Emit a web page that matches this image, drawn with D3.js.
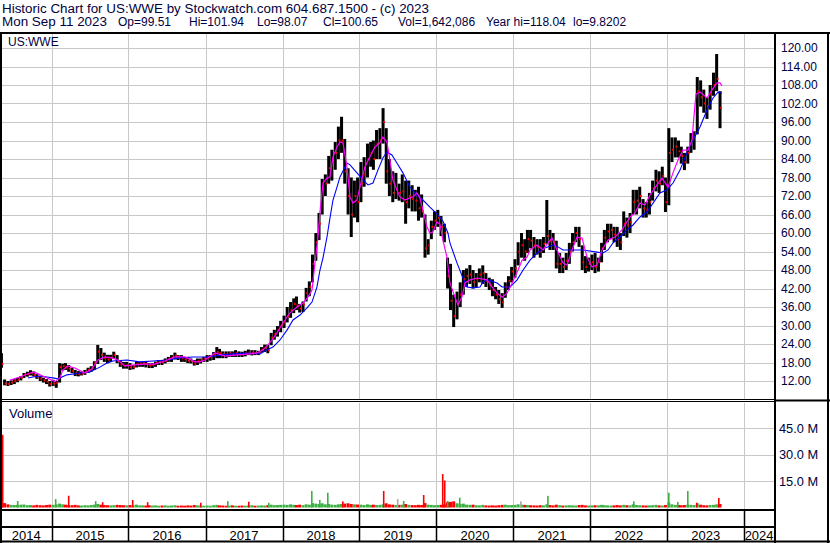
<!DOCTYPE html>
<html>
<head>
<meta charset="utf-8">
<script src="https://cdn.jsdelivr.net/npm/d3@7"></script>
<style>
body { margin: 0; background: #fff; }
text { font-family: Arial, "Liberation Sans", sans-serif; }
</style>
</head>
<body>
<svg id="chart" width="830" height="543"></svg>
<script>
// semi-monthly bars (1st and 16th of each month): [high, low, close, volume in M]
const p2014 = [ // from May
	[21.0,16.3,17.5,3.0],[12.5,10.6,11.2,2.5],[12.0,10.4,11.0,1.8],[12.2,10.7,11.5,1.5],
	[12.6,11.0,12.0,1.4],[13.0,11.6,12.4,1.5],[13.6,12.2,13.0,1.6],[14.6,13.0,14.0,1.7],
	[15.0,13.4,14.2,1.3],[15.5,13.8,14.6,1.4],[15.1,13.5,14.0,1.2],[14.2,12.7,13.4,1.5],
	[13.6,12.0,12.8,1.3],[13.1,11.5,12.2,1.2],[12.6,11.0,11.8,1.4],[12.0,10.2,11.0,1.6]];
const p2015 = [
	[12.4,10.4,11.2,1.5],[12.0,9.8,11.4,1.8],[17.8,11.5,16.5,2.2],[17.6,15.4,16.8,1.8],
	[17.8,15.6,16.4,1.6],[17.2,15.0,16.0,1.4],[16.3,14.6,15.2,1.3],[15.6,13.6,14.5,1.5],
	[15.2,13.5,14.2,1.2],[15.0,13.8,14.4,1.1],[15.6,14.0,15.0,1.3],[16.3,14.6,15.6,1.2],
	[16.8,15.0,16.2,1.4],[18.4,15.6,17.8,1.6],[23.7,17.5,21.5,2.0],[22.7,18.8,20.5,1.6],
	[21.2,18.2,19.4,1.4],[20.5,17.8,19.0,1.3],[20.5,18.2,19.6,1.2],[21.5,19.3,20.5,1.3],
	[20.4,17.8,18.5,1.5],[18.8,16.6,17.4,1.4],[18.2,16.0,17.0,1.3],[18.2,16.0,17.2,1.2]];
const p2016 = [
	[17.8,15.6,16.4,1.4],[17.2,15.8,16.6,1.3],[18.2,16.4,17.5,1.6],[18.2,16.6,17.6,1.2],
	[18.3,16.6,17.8,1.2],[18.3,16.4,17.5,1.1],[17.8,16.2,17.0,1.3],[17.8,16.2,17.2,1.1],
	[18.3,16.6,17.8,1.2],[18.8,17.2,18.2,1.0],[18.8,17.2,18.0,1.1],[19.3,17.7,18.6,1.2],
	[19.8,18.2,19.2,1.0],[20.4,18.2,19.6,1.1],[21.2,19.0,20.3,1.3],[20.4,18.8,19.8,1.0],
	[20.4,18.2,19.4,1.1],[19.8,18.2,19.0,1.0],[19.8,17.8,18.6,1.2],[19.3,17.7,18.4,1.1],
	[18.8,17.0,17.6,1.4],[19.3,17.2,18.4,1.2],[19.3,17.7,18.8,1.1],[19.8,18.2,19.4,1.0]];
const p2017 = [
	[20.4,18.2,19.6,1.1],[20.4,18.6,19.8,1.0],[21.4,18.8,20.4,1.3],[23.0,19.4,21.4,1.5],
	[22.4,19.4,21.0,1.2],[21.6,19.4,20.8,1.1],[21.6,19.4,20.6,1.0],[21.6,19.8,21.0,1.1],
	[21.6,19.8,20.8,1.2],[22.0,19.8,21.0,1.0],[21.6,19.8,20.8,1.0],[21.5,19.8,20.6,1.1],
	[21.8,20.0,21.0,1.0],[22.2,20.4,21.2,1.2],[22.0,20.3,21.2,1.3],[22.0,20.4,21.0,1.0],
	[21.8,20.4,21.2,1.1],[23.0,21.2,22.2,1.2],[23.8,21.4,22.8,1.1],[23.8,21.0,22.0,1.3],
	[27.6,23.6,26.0,1.6],[28.6,25.4,27.2,1.3],[29.8,26.4,28.6,1.4],[31.5,27.8,30.0,1.5]];
const p2018 = [
	[33.2,29.2,31.0,1.6],[36.0,31.0,33.0,1.5],[37.6,32.5,35.0,1.8],[38.8,34.0,37.0,1.5],
	[39.4,35.0,36.5,1.4],[37.0,34.2,35.5,1.6],[37.8,34.4,36.8,1.3],[42.2,37.8,40.5,1.8],
	[44.3,39.5,42.5,1.6],[53.0,44.0,50.0,2.5],[60.0,51.0,57.0,2.2],[66.5,57.7,63.0,2.0],
	[77.5,66.0,74.0,2.4],[79.0,72.0,76.0,1.8],[85.0,76.0,81.0,2.0],[87.0,77.0,83.0,1.6],
	[89.5,80.5,86.0,1.5],[94.5,84.0,90.0,1.8],[97.7,86.0,90.0,2.0],[90.5,76.0,80.0,2.2],
	[81.0,66.0,72.0,2.4],[78.0,58.7,66.0,2.0],[77.0,65.0,72.0,1.8],[78.0,63.5,70.0,1.7]];
const p2019 = [
	[83.0,70.0,76.0,1.6],[84.6,75.0,79.0,1.4],[89.0,78.0,84.0,1.8],[89.5,81.5,86.0,1.5],
	[90.0,80.5,84.0,1.6],[93.4,84.0,89.0,1.4],[94.0,84.0,90.0,1.5],[100.5,89.0,96.0,1.8],
	[94.0,76.0,80.0,2.4],[84.0,72.0,76.0,1.8],[80.0,70.0,73.0,1.6],[79.5,71.0,74.0,1.4],
	[76.0,70.5,73.0,1.5],[79.0,70.0,73.5,1.6],[77.0,63.0,70.0,2.0],[77.0,68.0,72.0,1.5],
	[75.5,67.0,71.0,1.4],[74.0,67.0,70.5,1.3],[75.0,64.0,68.0,1.5],[72.5,65.0,67.0,1.4],
	[66.0,52.0,55.0,2.5],[58.0,53.0,56.0,1.6],[64.0,58.0,62.0,1.5],[67.0,61.0,64.0,1.3]];
const p2020 = [
	[67.5,62.0,65.0,1.4],[65.5,59.0,62.0,1.5],[63.0,57.0,60.0,1.8],[52.0,42.0,46.0,3.0],
	[50.0,35.0,38.0,3.2],[40.0,29.5,33.0,3.5],[41.0,32.0,37.0,2.4],[44.0,36.0,40.0,2.0],
	[48.0,40.0,45.0,2.2],[48.5,42.5,46.0,1.6],[49.6,43.5,46.5,1.5],[48.0,42.0,44.0,1.6],
	[47.0,42.5,45.0,1.3],[48.5,44.0,46.5,1.2],[49.5,43.5,47.0,1.5],[47.0,42.5,44.5,1.2],
	[45.5,41.5,43.0,1.1],[45.0,39.5,41.5,1.2],[42.5,38.5,40.0,1.1],[41.5,37.0,38.5,1.3],
	[40.5,35.7,37.5,1.5],[44.0,39.0,42.5,1.6],[46.0,41.5,44.5,1.3],[49.0,44.0,47.5,1.4]];
const p2021 = [
	[51.5,45.5,48.5,1.5],[57.0,49.5,54.0,1.8],[60.0,52.0,56.0,1.6],[58.0,51.0,54.0,1.5],
	[61.0,53.5,58.0,1.4],[61.0,55.0,57.5,1.3],[58.7,52.0,56.0,1.2],[58.0,53.0,55.5,1.1],
	[58.0,52.0,54.0,1.3],[58.7,53.5,56.5,1.2],[70.7,56.5,59.0,1.8],[61.0,54.5,57.5,1.4],
	[60.0,54.5,57.0,1.2],[57.5,48.5,50.0,1.6],[53.5,47.0,50.0,1.3],[52.0,47.0,49.0,1.1],
	[53.5,48.0,51.0,1.2],[56.8,50.0,54.0,1.3],[60.0,54.0,57.0,1.2],[62.0,57.0,60.0,1.1],
	[62.0,55.5,58.0,1.4],[56.0,48.0,50.5,1.5],[52.5,47.0,49.0,1.2],[52.0,47.5,50.0,1.1]];
const p2022 = [
	[53.0,48.0,50.5,1.2],[53.5,47.0,49.0,1.3],[52.0,47.5,50.5,1.2],[56.8,50.5,55.0,1.5],
	[61.0,54.5,58.5,1.3],[63.0,57.0,60.5,1.2],[63.0,58.0,61.0,1.1],[62.0,57.0,59.5,1.2],
	[62.0,55.5,58.0,1.4],[60.0,54.5,57.0,1.2],[67.0,59.0,63.0,1.5],[65.0,58.5,62.5,1.3],
	[66.5,60.0,63.5,1.2],[74.0,66.0,70.0,1.8],[74.0,66.0,70.5,1.4],[75.0,68.0,72.0,1.3],
	[71.0,65.0,68.0,1.2],[70.0,65.0,67.5,1.1],[73.0,66.0,70.0,1.2],[77.0,70.5,74.5,1.3],
	[80.5,73.5,77.0,1.5],[80.0,73.0,76.0,1.2],[81.5,75.5,78.5,1.1],[78.0,66.8,70.0,1.4]];
const p2023 = [
	[94.0,69.0,86.0,2.8],[91.0,83.0,87.0,1.8],[91.0,84.5,88.0,1.5],[90.0,84.5,86.5,1.4],
	[88.0,82.5,85.0,1.3],[86.0,80.4,83.0,1.4],[88.0,82.5,86.0,1.6],[92.4,86.0,90.0,1.5],
	[93.0,87.0,91.0,1.4],[110.6,92.0,106.0,2.4],[109.5,101.0,104.0,1.6],[106.5,99.0,102.0,1.3],
	[104.0,97.0,101.0,1.2],[108.0,100.0,105.0,1.4],[112.0,104.5,108.0,1.5],[118.04,106.0,110.0,1.8],
	[106.0,94.0,100.65,2.0]];

// volume spikes: [decimal year, volume M, up/down/flat]
const volSpikes = [
	[2014.354,41.3,'dn'],[2014.549,3.7,'up'],[2015.043,4.8,'up'],[2015.212,6.7,'dn'],
	[2015.563,3.6,'up'],[2015.654,3.0,'dn'],[2016.044,4.3,'dn'],[2016.238,3.0,'dn'],
	[2016.927,2.7,'dn'],[2017.278,3.6,'up'],[2017.551,3.3,'dn'],[2017.811,2.7,'up'],
	[2018.370,9.4,'up'],[2018.474,4.3,'up'],[2018.578,8.4,'up'],[2018.773,3.5,'dn'],
	[2019.305,9.4,'dn'],[2019.487,4.8,'eq'],[2019.565,3.7,'up'],[2019.825,7.1,'dn'],
	[2020.072,19.0,'dn'],[2020.098,15.3,'dn'],[2020.137,3.7,'up'],[2020.293,5.6,'up'],
	[2021.086,3.5,'eq'],[2021.437,6.6,'up'],[2022.554,3.5,'up'],[2023.009,8.4,'up'],
	[2023.126,3.2,'up'],[2023.256,9.4,'up'],[2023.373,2.7,'dn'],[2023.659,5.4,'dn']];

// short moving average (magenta): [decimal year, value]
const maShort = [
	[2014.458,12.3],[2014.588,13.3],[2014.718,14.6],[2014.783,14.8],[2014.913,13.3],[2015.043,11.8],
	[2015.108,13.0],[2015.147,15.6],[2015.212,16.9],[2015.303,16.2],[2015.433,14.6],[2015.524,15.9],
	[2015.602,18.8],[2015.693,19.8],[2015.784,19.5],[2015.862,18.8],[2015.953,16.9],[2016.082,17.2],
	[2016.212,17.5],[2016.342,17.5],[2016.472,18.5],[2016.602,19.8],[2016.732,19.8],[2016.862,18.2],
	[2016.927,18.2],[2016.992,18.8],[2017.122,21.1],[2017.252,20.1],[2017.382,20.4],[2017.577,20.8],
	[2017.668,21.1],[2017.746,22.1],[2017.811,23.7],[2017.863,25.3],[2017.928,27.6],[2018.006,30.8],
	[2018.097,34.1],[2018.188,36.0],[2018.266,37.3],[2018.331,39.2],[2018.383,41.5],[2018.422,50.3],
	[2018.461,58.7],[2018.487,66.8],[2018.526,76.2],[2018.578,77.8],[2018.617,78.2],[2018.656,84.7],
	[2018.708,87.9],[2018.747,89.5],[2018.786,89.2],[2018.838,81.4],[2018.877,71.7],[2018.916,69.7],
	[2018.968,70.7],[2019.006,74.9],[2019.071,81.4],[2019.136,84.7],[2019.201,87.9],[2019.266,89.2],
	[2019.305,91.1],[2019.357,89.5],[2019.396,83.7],[2019.435,77.2],[2019.487,74.0],[2019.526,71.7],
	[2019.591,70.7],[2019.656,71.4],[2019.695,71.7],[2019.747,73.0],[2019.786,71.4],[2019.825,67.5],
	[2019.877,62.0],[2019.916,60.0],[2019.955,60.3],[2020.007,63.6],[2020.046,62.9],[2020.085,57.7],
	[2020.137,52.2],[2020.176,43.8],[2020.241,39.2],[2020.280,36.7],[2020.332,39.2],[2020.371,43.8],
	[2020.436,44.8],[2020.527,45.4],[2020.657,44.8],[2020.722,42.5],[2020.787,40.5],[2020.852,39.2],
	[2020.917,40.5],[2020.982,43.8],[2021.060,48.0],[2021.112,51.2],[2021.177,52.2],[2021.215,54.5],
	[2021.306,56.1],[2021.384,54.5],[2021.449,56.8],[2021.501,58.4],[2021.566,54.5],[2021.644,50.3],
	[2021.696,49.6],[2021.761,54.5],[2021.826,58.7],[2021.891,58.4],[2021.956,52.2],[2022.021,49.0],
	[2022.086,49.6],[2022.151,54.5],[2022.229,57.7],[2022.320,58.7],[2022.411,61.0],[2022.515,65.2],
	[2022.580,66.5],[2022.645,69.7],[2022.710,69.1],[2022.775,72.3],[2022.866,75.6],[2022.931,77.8],
	[2023.009,74.9],[2023.074,79.5],[2023.139,83.7],[2023.204,86.9],[2023.269,86.9],[2023.321,90.2],
	[2023.347,98.0],[2023.373,105.0],[2023.425,105.7],[2023.516,103.8],[2023.581,106.4],[2023.646,108.7],
	[2023.685,108.7],[2023.711,107.7]];

// long moving average (blue): [decimal year, value]
const maLong = [
	[2014.692,13.0],[2014.757,13.3],[2014.848,13.6],[2014.939,13.3],[2015.017,13.0],[2015.082,12.7],
	[2015.199,14.0],[2015.368,14.6],[2015.498,14.9],[2015.628,16.5],[2015.719,17.8],[2015.797,18.5],
	[2015.979,18.8],[2016.147,18.2],[2016.316,18.5],[2016.498,18.8],[2016.667,19.5],[2016.836,19.8],
	[2017.018,19.8],[2017.187,20.4],[2017.356,20.8],[2017.538,21.1],[2017.707,20.8],[2017.798,22.1],
	[2017.876,23.0],[2017.967,25.3],[2018.058,28.5],[2018.136,31.8],[2018.227,33.4],[2018.318,35.7],
	[2018.383,37.6],[2018.448,42.5],[2018.487,48.0],[2018.526,51.9],[2018.578,58.7],[2018.617,64.9],
	[2018.656,70.7],[2018.708,74.9],[2018.747,78.2],[2018.838,82.7],[2018.877,82.1],[2018.968,79.5],
	[2019.046,77.2],[2019.111,75.6],[2019.176,76.2],[2019.240,80.4],[2019.305,84.3],[2019.357,86.3],
	[2019.422,85.3],[2019.487,82.7],[2019.565,79.5],[2019.656,74.9],[2019.747,72.3],[2019.825,70.7],
	[2019.916,68.4],[2020.007,66.2],[2020.085,63.9],[2020.150,60.0],[2020.176,56.8],[2020.267,50.3],
	[2020.345,45.4],[2020.397,42.5],[2020.475,42.2],[2020.566,42.5],[2020.605,44.1],[2020.670,44.8],
	[2020.787,43.8],[2020.852,42.5],[2020.956,42.5],[2021.047,44.8],[2021.125,48.0],[2021.215,51.2],
	[2021.306,53.5],[2021.410,55.1],[2021.514,56.1],[2021.579,55.5],[2021.644,54.5],[2021.774,54.5],
	[2021.904,54.5],[2022.086,53.8],[2022.164,53.5],[2022.229,54.5],[2022.294,56.8],[2022.385,58.7],
	[2022.476,61.0],[2022.554,62.6],[2022.645,65.2],[2022.736,66.8],[2022.814,69.7],[2022.905,73.0],
	[2022.996,74.0],[2023.074,76.2],[2023.165,80.4],[2023.256,86.0],[2023.334,90.2],[2023.425,94.4],
	[2023.516,99.9],[2023.594,103.8],[2023.659,105.7],[2023.711,105.4]];

const priceTicks = d3.range(12, 121, 6),
	volTicks = [15, 30, 45],
	yearLabels = d3.range(2014, 2025);

const headerLine1 = 'Historic Chart for US:WWE by Stockwatch.com 604.687.1500 - (c) 2023';
// [x, text, stretched width or 0]
const headerLine2 = [
	[2, 'Mon Sep 11 2023', 105], [118, 'Op=99.51', 0], [189, 'Hi=101.94', 0], [257, 'Lo=98.07', 0],
	[323, 'Cl=100.65', 0], [398, 'Vol=1,642,086', 0], [486, 'Year hi=118.04', 0], [573, 'lo=9.8202', 0]];

// layout
const W = 830, H = 543,
	plotL = 1, plotR = 774,
	priceTop = 34, priceBot = 399,
	volTop = 403, volBot = 509,
	textCol = '#000040',
	gridCol = '#c8c8c8',
	upCol = '#3cb043', dnCol = '#ff0000', eqCol = '#a8a8a8';

const svg = d3.select('#chart');

const x = d3.scaleTime()
	.domain([new Date(2014, 4, 6), new Date(2024, 4, 26)])
	.range([plotL, plotR + 1]);
const yPrice = d3.scaleLinear().domain([12, 120]).range([381, 48]);
const yVol = d3.scaleLinear().domain([0, 45]).range([507.5, 428.3]);

function yearToDate(yf) {
	const yr = Math.floor(yf),
		a = new Date(yr, 0, 1), b = new Date(yr + 1, 0, 1);
	return new Date(+a + (yf - yr) * (b - a));
}

// flatten yearly arrays into dated bars
const bars = [];
[[2014, 4, p2014], [2015, 0, p2015], [2016, 0, p2016], [2017, 0, p2017], [2018, 0, p2018],
 [2019, 0, p2019], [2020, 0, p2020], [2021, 0, p2021], [2022, 0, p2022], [2023, 0, p2023]]
	.forEach(([yr, m0, rows]) => rows.forEach((r, i) => {
		bars.push({
			date: new Date(yr, m0 + Math.floor(i / 2), i % 2 ? 16 : 1),
			hi: r[0], lo: r[1], cl: r[2], vol: r[3]
		});
	}));
bars.forEach((d, i) => {
	d.col = i == 0 ? dnCol : (d.cl >= bars[i - 1].cl ? upCol : dnCol);
});

const yearLines = d3.timeYear.range(new Date(2015, 0, 1), new Date(2024, 0, 2));

// header
svg.append('text').attr('x', 2).attr('y', 13)
	.attr('font-size', 12.5).attr('fill', textCol)
	.attr('textLength', 427).attr('lengthAdjust', 'spacingAndGlyphs')
	.text(headerLine1);
svg.append('g').selectAll('text').data(headerLine2).join('text')
	.attr('x', d => d[0]).attr('y', 26)
	.attr('font-size', 12).attr('fill', textCol)
	.each(function(d) {
		if (d[2]) d3.select(this).attr('textLength', d[2]).attr('lengthAdjust', 'spacingAndGlyphs');
	})
	.text(d => d[1]);

// gridlines
const grid = svg.append('g').attr('stroke', gridCol).attr('stroke-width', 1);
grid.selectAll('.hp').data(priceTicks).join('line')
	.attr('x1', plotL).attr('x2', plotR)
	.attr('y1', d => Math.round(yPrice(d)) + 0.5).attr('y2', d => Math.round(yPrice(d)) + 0.5);
grid.selectAll('.hv').data(volTicks).join('line')
	.attr('x1', plotL).attr('x2', plotR)
	.attr('y1', d => Math.round(yVol(d)) + 0.5).attr('y2', d => Math.round(yVol(d)) + 0.5);
grid.selectAll('.vp').data(yearLines).join('line')
	.attr('x1', d => Math.round(x(d)) + 0.5).attr('x2', d => Math.round(x(d)) + 0.5)
	.attr('y1', priceTop).attr('y2', priceBot);
grid.selectAll('.vv').data(yearLines).join('line')
	.attr('x1', d => Math.round(x(d)) + 0.5).attr('x2', d => Math.round(x(d)) + 0.5)
	.attr('y1', volTop).attr('y2', volBot);

// clip areas
const defs = svg.append('defs');
defs.append('clipPath').attr('id', 'clipPrice').append('rect')
	.attr('x', plotL + 1).attr('y', priceTop).attr('width', plotR - plotL - 1).attr('height', priceBot - priceTop);
defs.append('clipPath').attr('id', 'clipVol').append('rect')
	.attr('x', plotL + 1).attr('y', volTop).attr('width', plotR - plotL - 1).attr('height', volBot - volTop);

// price bars
const pg = svg.append('g').attr('clip-path', 'url(#clipPrice)');
pg.selectAll('rect.hl').data(bars).join('rect')
	.attr('x', d => x(d.date)).attr('width', 3)
	.attr('y', d => yPrice(d.hi))
	.attr('height', d => Math.max(1, yPrice(d.lo) - yPrice(d.hi)))
	.attr('fill', '#000');
pg.selectAll('rect.cl').data(bars).join('rect')
	.attr('x', d => x(d.date) + 1.6).attr('width', 1.8)
	.attr('y', d => yPrice(d.cl) - 1).attr('height', 2)
	.attr('fill', '#ff0000');

// moving averages
const maLine = d3.line()
	.x(d => x(yearToDate(d[0])))
	.y(d => yPrice(d[1]));
pg.append('path').datum(maLong).attr('d', maLine)
	.attr('fill', 'none').attr('stroke', '#0000ff').attr('stroke-width', 1.1);
pg.append('path').datum(maShort).attr('d', maLine)
	.attr('fill', 'none').attr('stroke', '#ff00ff').attr('stroke-width', 1.2);

// volume
const vg = svg.append('g').attr('clip-path', 'url(#clipVol)');
vg.selectAll('rect.vb').data(bars).join('rect')
	.attr('x', d => x(d.date)).attr('width', 3)
	.attr('y', d => yVol(d.vol)).attr('height', d => yVol(0) - yVol(d.vol))
	.attr('fill', d => d.col);
const spikeCol = { up: upCol, dn: dnCol, eq: eqCol };
vg.selectAll('rect.vs').data(volSpikes).join('rect')
	.attr('x', d => x(yearToDate(d[0]))).attr('width', 1.6)
	.attr('y', d => yVol(d[1])).attr('height', d => yVol(0) - yVol(d[1]))
	.attr('fill', d => spikeCol[d[2]]);

// panel labels
svg.append('text').attr('x', 8).attr('y', 46).attr('font-size', 12).attr('fill', textCol).text('US:WWE');
svg.append('text').attr('x', 9).attr('y', 418).attr('font-size', 13).attr('fill', textCol).text('Volume');

// right axes
const priceAxis = d3.axisRight(yPrice).tickValues(priceTicks).tickSize(0).tickPadding(0)
	.tickFormat(d3.format('.2f'));
const ga = svg.append('g').attr('transform', 'translate(781,0)').call(priceAxis);
const volAxis = d3.axisRight(yVol).tickValues(volTicks).tickSize(0).tickPadding(0)
	.tickFormat(d => d.toFixed(1) + ' M');
const gv = svg.append('g').attr('transform', 'translate(779,0)').call(volAxis);
[ga, gv].forEach(g => {
	g.select('.domain').remove();
	g.selectAll('text').attr('font-size', 12).attr('fill', textCol)
		.attr('font-family', 'Arial, "Liberation Sans", sans-serif');
});
gv.selectAll('text').attr('font-size', 12.8);

// year labels in bottom band
svg.append('g').selectAll('text').data(yearLabels).join('text')
	.attr('x', d => (Math.max(x(new Date(d, 0, 1)), plotL) + Math.min(x(new Date(d + 1, 0, 1)), plotR)) / 2)
	.attr('y', 540)
	.attr('text-anchor', 'middle').attr('font-size', 13).attr('fill', '#000')
	.text(d => d);

// frame lines
const frame = svg.append('g').attr('stroke', '#000');
frame.append('line').attr('x1', 0).attr('x2', W).attr('y1', 33).attr('y2', 33).attr('stroke-width', 2);
frame.append('line').attr('x1', 1).attr('x2', 1).attr('y1', 33).attr('y2', H).attr('stroke-width', 2);
frame.append('line').attr('x1', W - 2).attr('x2', W - 2).attr('y1', 33).attr('y2', H).attr('stroke-width', 2);
frame.append('line').attr('x1', 0).attr('x2', W).attr('y1', H - 1.5).attr('y2', H - 1.5).attr('stroke-width', 2);
frame.append('line').attr('x1', plotR + 1).attr('x2', plotR + 1).attr('y1', 33).attr('y2', H).attr('stroke-width', 2);
frame.append('line').attr('x1', 0).attr('x2', plotR).attr('y1', 399.5).attr('y2', 399.5).attr('stroke-width', 1);
frame.append('line').attr('x1', 0).attr('x2', plotR).attr('y1', 401.5).attr('y2', 401.5).attr('stroke-width', 1);
frame.append('line').attr('x1', plotR).attr('x2', W).attr('y1', 400.5).attr('y2', 400.5).attr('stroke-width', 2);
frame.append('line').attr('x1', 0).attr('x2', plotR).attr('y1', 510).attr('y2', 510).attr('stroke-width', 2);
frame.append('line').attr('x1', 0).attr('x2', plotR).attr('y1', 527).attr('y2', 527).attr('stroke-width', 2);
frame.selectAll('.yd').data(yearLines).join('line')
	.attr('x1', d => Math.round(x(d)) + 0.5).attr('x2', d => Math.round(x(d)) + 0.5)
	.attr('y1', 510).attr('y2', H - 1).attr('stroke-width', 1.5);
</script>
</body>
</html>
